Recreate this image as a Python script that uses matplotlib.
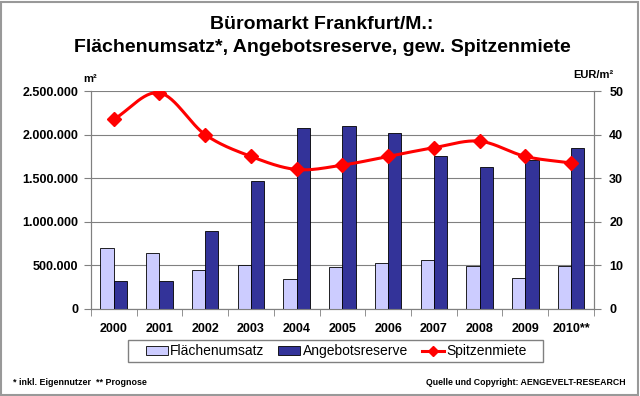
import numpy as np
import matplotlib
matplotlib.use("Agg")
import matplotlib.pyplot as plt
import matplotlib.patches as mpatches
from matplotlib.lines import Line2D
from matplotlib.ticker import FuncFormatter

plt.rcParams["font.family"] = ["Liberation Sans", "DejaVu Sans"]

# ---------------------------------------------------------------------------
# Daten
# ---------------------------------------------------------------------------
jahre = ["2000", "2001", "2002", "2003", "2004", "2005",
         "2006", "2007", "2008", "2009", "2010**"]
flaechenumsatz = [700000, 638000, 447000, 508000, 344000, 481000,
                  527000, 561000, 496000, 355000, 496000]
angebotsreserve = [321000, 316000, 893000, 1473000, 2080000, 2103000,
                   2020000, 1753000, 1630000, 1707000, 1851000]
spitzenmiete = [43.5, 49.6, 40.0, 35.0, 32.0, 33.0,
                35.0, 37.0, 38.5, 35.0, 33.5]

C_HELL = "#CCCCFF"
C_DUNKEL = "#333399"
C_ROT = "#FF0000"
C_GRAU = "#808080"


def glatt(x, y, n=30):
    """Catmull-Rom-Glättung der Linie (wie Excel 'geglättete Linie')."""
    x = np.asarray(x, float)
    y = np.asarray(y, float)
    px = np.concatenate([[2 * x[0] - x[1]], x, [2 * x[-1] - x[-2]]])
    py = np.concatenate([[2 * y[0] - y[1]], y, [2 * y[-1] - y[-2]]])
    xs, ys = [], []
    t = np.linspace(0, 1, n, endpoint=False)
    for i in range(1, len(px) - 2):
        for p, out in ((px, xs), (py, ys)):
            p0, p1, p2, p3 = p[i - 1], p[i], p[i + 1], p[i + 2]
            out.extend(0.5 * (2 * p1 + (-p0 + p2) * t
                              + (2 * p0 - 5 * p1 + 4 * p2 - p3) * t ** 2
                              + (-p0 + 3 * p1 - 3 * p2 + p3) * t ** 3))
    xs.append(x[-1])
    ys.append(y[-1])
    return np.array(xs), np.array(ys)


fig = plt.figure(figsize=(6.4, 3.96), dpi=100)
fig.patch.set_facecolor("white")
fig.add_artist(mpatches.Rectangle((0.002, 0.003), 0.995, 0.993,
                                  transform=fig.transFigure, fill=False,
                                  edgecolor="#999999", linewidth=1.5))

ax = fig.add_axes([0.142, 0.22, 0.786, 0.55])
x = np.arange(len(jahre))
bw = 0.29

ax.bar(x - bw / 2, flaechenumsatz, bw, color=C_HELL, edgecolor="black",
       linewidth=0.6, zorder=3)
ax.bar(x + bw / 2, angebotsreserve, bw, color=C_DUNKEL, edgecolor="black",
       linewidth=0.6, zorder=3)

ax.set_xlim(-0.5, len(jahre) - 0.5)
ax.set_ylim(0, 2500000)
ax.set_yticks(np.arange(0, 2500001, 500000))
ax.yaxis.set_major_formatter(FuncFormatter(lambda v, p: f"{int(v):,}".replace(",", ".")))
ax.yaxis.grid(True, color=C_GRAU, linewidth=0.8, zorder=0)
ax.set_xticks(x)
ax.set_xticklabels(jahre)
ax.set_xticks(np.arange(-0.5, len(jahre), 1), minor=True)
ax.tick_params(axis="x", which="major", length=0, pad=10)
ax.tick_params(axis="x", which="minor", length=5, color=C_GRAU, direction="out")
ax.tick_params(axis="y", length=5, color=C_GRAU, pad=4)
for lab in ax.get_xticklabels() + ax.get_yticklabels():
    lab.set_fontweight("bold")
    lab.set_fontsize(9)
ax.spines["top"].set_visible(False)
for s in ["left", "bottom", "right"]:
    ax.spines[s].set_color(C_GRAU)

ax2 = ax.twinx()
ax2.set_ylim(0, 50)
ax2.set_yticks(np.arange(0, 51, 10))
sx, sy = glatt(x, spitzenmiete)
ax2.plot(sx, sy, color=C_ROT, linewidth=2.2, zorder=4)
ax2.plot(x, spitzenmiete, linestyle="none", marker="D", markersize=7,
         color=C_ROT, zorder=5)
ax2.tick_params(axis="y", length=5, color=C_GRAU, pad=6)
for lab in ax2.get_yticklabels():
    lab.set_fontweight("bold")
    lab.set_fontsize(9)
ax2.spines["top"].set_visible(False)
for s in ["left", "bottom", "right"]:
    ax2.spines[s].set_color(C_GRAU)

fig.text(0.503, 0.938, "Büromarkt Frankfurt/M.:", ha="center", va="center",
         fontsize=14, fontweight="bold")
fig.text(0.503, 0.88, "Flächenumsatz*, Angebotsreserve, gew. Spitzenmiete",
         ha="center", va="center", fontsize=14, fontweight="bold")
fig.text(0.13, 0.8, "m²", fontsize=8, fontweight="bold", va="center")
fig.text(0.958, 0.81, "EUR/m²", fontsize=8, fontweight="bold", va="center", ha="right")

# Legende mit fester Rahmenbox
fig.add_artist(mpatches.Rectangle((128 / 640, 1 - 362 / 396), 415 / 640, 22 / 396,
                                  transform=fig.transFigure, facecolor="white",
                                  edgecolor=C_GRAU, linewidth=1.0))
handles = [
    mpatches.Patch(facecolor=C_HELL, edgecolor="black", linewidth=0.6, label="Flächenumsatz"),
    mpatches.Patch(facecolor=C_DUNKEL, edgecolor="black", linewidth=0.6, label="Angebotsreserve"),
    Line2D([], [], color=C_ROT, linewidth=2.2, marker="D", markersize=5, label="Spitzenmiete"),
]
fig.legend(handles=handles, loc="center", bbox_to_anchor=(0.525, 0.113),
           ncol=3, fontsize=10, frameon=False,
           handlelength=1.6, handleheight=0.6,
           handletextpad=0.15, columnspacing=1.0, borderpad=0.3)

fig.text(0.02, 0.035, "* inkl. Eigennutzer  ** Prognose", fontsize=6.4,
         fontweight="bold", va="center")
fig.text(0.977, 0.035, "Quelle und Copyright: AENGEVELT-RESEARCH", fontsize=6.3,
         fontweight="bold", va="center", ha="right")

fig.savefig("out.png", dpi=100, facecolor=fig.get_facecolor())
